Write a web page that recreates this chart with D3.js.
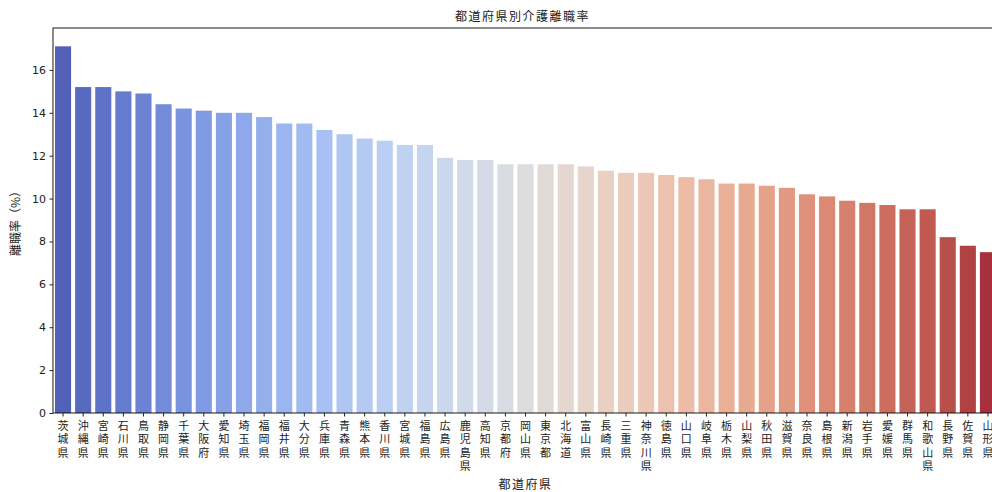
<!DOCTYPE html>
<html><head><meta charset="utf-8">
<script src="https://cdn.jsdelivr.net/npm/d3@7/dist/d3.min.js"></script>
<style>
body{margin:0;background:#fff;}
svg{display:block;font-family:"Noto Sans CJK JP","DejaVu Sans",sans-serif;}
</style></head><body>
<svg id="c" width="992" height="492"></svg>
<script>
const prefectures = ["茨城県","沖縄県","宮崎県","石川県","鳥取県","静岡県","千葉県","大阪府","愛知県","埼玉県","福岡県","福井県","大分県","兵庫県","青森県","熊本県","香川県","宮城県","福島県","広島県","鹿児島県","高知県","京都府","岡山県","東京都","北海道","富山県","長崎県","三重県","神奈川県","徳島県","山口県","岐阜県","栃木県","山梨県","秋田県","滋賀県","奈良県","島根県","新潟県","岩手県","愛媛県","群馬県","和歌山県","長野県","佐賀県","山形県"];
const rates = [17.1,15.2,15.2,15.0,14.9,14.4,14.2,14.1,14.0,14.0,13.8,13.5,13.5,13.2,13.0,12.8,12.7,12.5,12.5,11.9,11.8,11.8,11.6,11.6,11.6,11.6,11.5,11.3,11.2,11.2,11.1,11.0,10.9,10.7,10.7,10.6,10.5,10.2,10.1,9.9,9.8,9.7,9.5,9.5,8.2,7.8,7.5];
const yTicks = [0,2,4,6,8,10,12,14,16];
const title = "都道府県別介護離職率";
const xLabel = "都道府県";
const yLabel = "離職率（%）";

// coolwarm colormap (Moreland table)
const cwStops = [[59,76,192],[68,90,204],[77,104,215],[87,117,225],[98,130,234],[108,142,241],[119,154,247],[130,165,251],[141,176,254],[152,185,255],[163,194,255],[174,201,253],[184,208,249],[194,213,244],[204,217,238],[213,219,230],[221,221,221],[229,216,209],[236,211,197],[241,204,185],[245,196,173],[247,187,160],[247,177,148],[247,166,135],[244,154,123],[241,141,111],[236,127,99],[229,112,88],[222,96,77],[213,80,66],[203,62,56],[192,40,47],[180,4,38]];
const coolwarm = d3.scaleLinear()
  .domain(cwStops.map((d,i)=>i/(cwStops.length-1)))
  .range(cwStops.map(c=>`rgb(${c[0]},${c[1]},${c[2]})`))
  .interpolate(d3.interpolateRgb);
const n = prefectures.length;
const color = i => { const h = d3.hsl(coolwarm((i+1)/(n+1))); h.s *= 0.75; return h.formatRgb(); };

const L = 53, R = 998, T = 28, B = 413;
const svg = d3.select("#c");
const x = d3.scaleBand().domain(prefectures).range([L,R]).paddingInner(0.2).paddingOuter(0.1);
const y = d3.scaleLinear().domain([0, d3.max(rates)*1.05]).range([B,T]);

svg.append("g").selectAll("rect").data(prefectures).join("rect")
  .attr("x", d=>x(d)).attr("width", x.bandwidth())
  .attr("y", (d,i)=>y(rates[i])).attr("height", (d,i)=>B-y(rates[i]))
  .attr("fill", (d,i)=>color(i));

// spines
svg.append("rect").attr("x",L).attr("y",T).attr("width",R-L).attr("height",B-T)
  .attr("fill","none").attr("stroke","#000").attr("stroke-width",0.9);

// y axis
const yAxis = d3.axisLeft(y).tickValues(yTicks).tickSize(3.5).tickPadding(3.5).tickFormat(d3.format("d"));
const gy = svg.append("g").attr("transform",`translate(${L},0)`).call(yAxis);
gy.select(".domain").remove();
gy.selectAll("text").attr("font-family","DejaVu Sans").attr("font-size",11).attr("fill","#222");
gy.selectAll("line").attr("stroke","#222");

// x axis
const xAxis = d3.axisBottom(x).tickSize(3.5).tickFormat("");
const gx = svg.append("g").attr("transform",`translate(0,${B})`).call(xAxis);
gx.select(".domain").remove();
gx.selectAll("line").attr("stroke","#222");

svg.append("g").selectAll("text").data(prefectures).join("text")
  .attr("x", d=>x(d)+x.bandwidth()/2).attr("y", 420)
  .style("writing-mode","vertical-rl").style("text-orientation","upright")
  .attr("font-size",11).attr("letter-spacing",2.5).attr("fill","#222")
  .text(d=>d);

svg.append("text").attr("x",(L+R)/2-3).attr("y",21).attr("text-anchor","middle")
  .attr("font-size",12).attr("letter-spacing",1.5).attr("fill","#222").text(title);
svg.append("text").attr("x",(L+R)/2).attr("y",489).attr("text-anchor","middle")
  .attr("font-size",12).attr("letter-spacing",1.5).attr("fill","#222").text(xLabel);
svg.append("text").attr("transform",`translate(20,${(T+B)/2}) rotate(-90)`).attr("text-anchor","middle")
  .attr("font-size",12).attr("fill","#222").text(yLabel);
</script>
</body></html>
